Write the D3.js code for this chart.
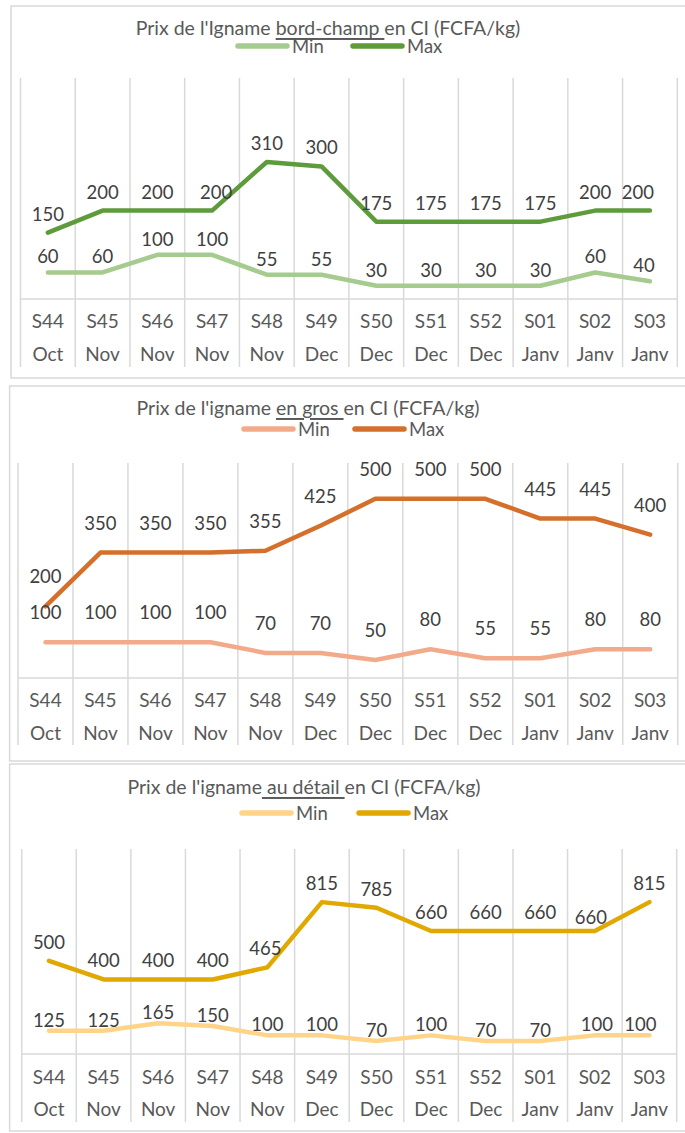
<!DOCTYPE html>
<html>
<head>
<meta charset="utf-8">
<script src="https://cdn.jsdelivr.net/npm/d3@7"></script>
<style>
  body { margin: 0; background: #fff; }
  svg { display: block; font-family: Lato, "Open Sans", sans-serif; }
</style>
</head>
<body>
<div id="chart"></div>
<script>
const weeks = ["S44", "S45", "S46", "S47", "S48", "S49", "S50", "S51", "S52", "S01", "S02", "S03"];
const months = ["Oct", "Nov", "Nov", "Nov", "Nov", "Dec", "Dec", "Dec", "Dec", "Janv", "Janv", "Janv"];

const bordChampMin = [60, 60, 100, 100, 55, 55, 30, 30, 30, 30, 60, 40];
const bordChampMax = [150, 200, 200, 200, 310, 300, 175, 175, 175, 175, 200, 200];
const grosMin = [100, 100, 100, 100, 70, 70, 50, 80, 55, 55, 80, 80];
const grosMax = [200, 350, 350, 350, 355, 425, 500, 500, 500, 445, 445, 400];
const detailMin = [125, 125, 165, 150, 100, 100, 70, 100, 70, 70, 100, 100];
const detailMax = [500, 400, 400, 400, 465, 815, 785, 660, 660, 660, 660, 815];

const seriesNames = ["Min", "Max"];

const W = 685, H = 1133;

// one entry per panel, layout
const charts = [
  {
    title: ["Prix de l'Igname ", "bord-champ ", "en CI (FCFA/kg)"],
    series: [bordChampMin, bordChampMax],
    colors: ["#a6cb8e", "#5e9b3b"],
    frame: { x: 11, y: 6, w: 684, h: 372 },
    titleX: 328, titleY: 27,
    legendY: 46, legendX: [235, 350],
    x0: 20.5, x1: 677.3,
    yTop: 78, yBottom: 299, yMax: 500,
    gridBottom: 367, row1: 320, row2: 353,
    labelOffset: [16, 19],
    // label nudges seen in the reference: [series, index, dx, dy]
    nudges: [[1, 3, 4, 0], [1, 11, -12, 0], [0, 11, -6, 0]]
  },
  {
    title: ["Prix de l'igname ", "en gros ", "en CI (FCFA/kg)"],
    series: [grosMin, grosMax],
    colors: ["#f3aa8b", "#d4702c"],
    frame: { x: 9.6, y: 386, w: 684, h: 375 },
    titleX: 308, titleY: 407,
    legendY: 429, legendX: [241, 352],
    x0: 18, x1: 677.7,
    yTop: 463, yBottom: 678, yMax: 600,
    gridBottom: 745, row1: 699, row2: 732,
    labelOffset: [30, 30],
    nudges: []
  },
  {
    title: ["Prix de l'igname", " au détail ", "en CI (FCFA/kg)"],
    series: [detailMin, detailMax],
    colors: ["#ffd488", "#e0a800"],
    frame: { x: 9.6, y: 764, w: 684, h: 367 },
    titleX: 304, titleY: 786,
    legendY: 813, legendX: [239, 356],
    x0: 21.7, x1: 676.7,
    yTop: 849, yBottom: 1054, yMax: 1100,
    gridBottom: 1122, row1: 1076, row2: 1108,
    labelOffset: [11, 19],
    nudges: [[1, 4, -2, 0], [1, 10, -4, 5], [0, 10, 2, 0], [0, 11, -9, 0]]
  }
];

const svg = d3.select("#chart").append("svg")
  .attr("width", W)
  .attr("height", H)
  .attr("viewBox", `0 0 ${W} ${H}`);

charts.forEach((c) => {
  const g = svg.append("g");

  g.append("rect")
    .attr("x", c.frame.x)
    .attr("y", c.frame.y)
    .attr("width", c.frame.w)
    .attr("height", c.frame.h)
    .attr("fill", "#fff")
    .attr("stroke", "#d9d9d9")
    .attr("stroke-width", 1.5);

  // title with the underlined part
  const title = g.append("text")
    .attr("x", c.titleX)
    .attr("y", c.titleY)
    .attr("text-anchor", "middle")
    .attr("dominant-baseline", "central")
    .attr("font-size", "19.5px")
    .attr("fill", "#595959")
    .attr("xml:space", "preserve");
  c.title.forEach((part, i) => {
    title.append("tspan")
      .attr("text-decoration", i === 1 ? "underline" : null)
      .text(part);
  });

  // legend
  seriesNames.forEach((name, i) => {
    const lx = c.legendX[i];
    g.append("line")
      .attr("x1", lx + 3)
      .attr("x2", lx + 52)
      .attr("y1", c.legendY)
      .attr("y2", c.legendY)
      .attr("stroke", c.colors[i])
      .attr("stroke-width", 5.5)
      .attr("stroke-linecap", "round");
    g.append("text")
      .attr("x", lx + 57)
      .attr("y", c.legendY)
      .attr("dominant-baseline", "central")
      .attr("font-size", "18.5px")
      .attr("fill", "#595959")
      .text(name);
  });

  const x = d3.scaleBand()
    .domain(weeks.map((_, i) => i))
    .range([c.x0, c.x1])
    .padding(0);
  const cx = (i) => x(i) + x.bandwidth() / 2;

  const y = d3.scaleLinear()
    .domain([0, c.yMax])
    .range([c.yBottom, c.yTop]);

  // vertical gridlines at category edges, running through the label rows
  const edges = d3.range(weeks.length + 1).map((i) => c.x0 + i * x.bandwidth());
  g.append("g")
    .selectAll("line")
    .data(edges)
    .join("line")
    .attr("x1", (d) => d)
    .attr("x2", (d) => d)
    .attr("y1", c.yTop)
    .attr("y2", c.gridBottom)
    .attr("stroke", "#d9d9d9")
    .attr("stroke-width", 1.5);

  g.append("line")
    .attr("x1", c.x0)
    .attr("x2", c.x1)
    .attr("y1", c.yBottom)
    .attr("y2", c.yBottom)
    .attr("stroke", "#d9d9d9")
    .attr("stroke-width", 1.5);

  // two-level category axis
  const rows = [
    { y: c.row1, labels: weeks },
    { y: c.row2, labels: months }
  ];
  rows.forEach((r) => {
    const ax = g.append("g")
      .attr("transform", `translate(0, ${r.y})`)
      .call(d3.axisBottom(x).tickSize(0).tickPadding(0).tickFormat((i) => r.labels[i]));
    ax.select(".domain").remove();
    ax.selectAll("text")
      .attr("y", 0)
      .attr("dy", null)
      .attr("dominant-baseline", "central")
      .attr("font-size", "19px")
      .attr("font-family", "Lato, 'Open Sans', sans-serif")
      .attr("fill", "#595959");
  });

  const line = d3.line()
    .x((d, i) => cx(i))
    .y((d) => y(d));

  c.series.forEach((values, s) => {
    g.append("path")
      .datum(values)
      .attr("d", line)
      .attr("fill", "none")
      .attr("stroke", c.colors[s])
      .attr("stroke-width", 4.5)
      .attr("stroke-linejoin", "round")
      .attr("stroke-linecap", "round");
  });

  const nudge = (s, i) => c.nudges.find((n) => n[0] === s && n[1] === i) || [s, i, 0, 0];

  c.series.forEach((values, s) => {
    g.append("g")
      .selectAll("text")
      .data(values)
      .join("text")
      .attr("x", (d, i) => cx(i) + nudge(s, i)[2])
      .attr("y", (d, i) => y(d) - c.labelOffset[s] + nudge(s, i)[3])
      .attr("text-anchor", "middle")
      .attr("dominant-baseline", "central")
      .attr("font-size", "18.5px")
      .attr("fill", "#404040")
      .text((d) => d);
  });
});
</script>
</body>
</html>
